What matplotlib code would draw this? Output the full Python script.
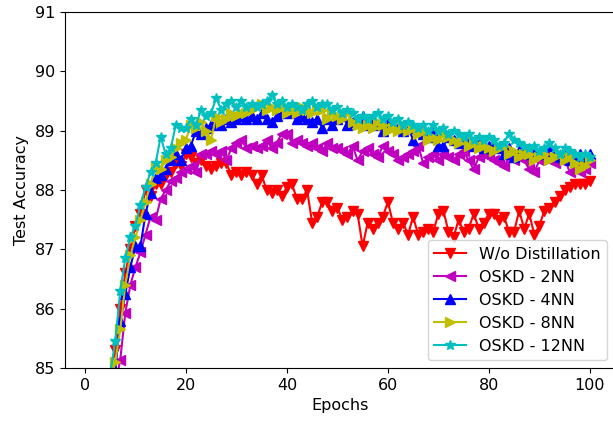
import matplotlib
matplotlib.use("Agg")
import matplotlib.pyplot as plt

epochs = list(range(1, 101))

wo_distillation = [
    82.5, 83.5, 84.0, 84.5, 84.9, 85.3, 86.0, 86.6, 87.0, 87.4,
    87.6, 88.0, 87.9, 88.1, 88.1, 88.25, 88.3, 88.45, 88.4, 88.6,
    88.55, 88.45, 88.5, 88.4, 88.35, 88.4, 88.45, 88.45, 88.25, 88.3,
    88.25, 88.3, 88.25, 88.1, 88.25, 88.0, 87.95, 88.0, 87.9, 88.05,
    88.1, 87.85, 87.85, 88.0, 87.45, 87.55, 87.8, 87.8, 87.65, 87.7,
    87.5, 87.55, 87.65, 87.6, 87.05, 87.45, 87.35, 87.45, 87.55, 87.8,
    87.45, 87.35, 87.45, 87.25, 87.55, 87.25, 87.3, 87.35, 87.3, 87.6,
    87.65, 87.3, 87.2, 87.5, 87.3, 87.35, 87.6, 87.35, 87.45, 87.6,
    87.6, 87.5, 87.55, 87.3, 87.3, 87.65, 87.35, 87.6, 87.25, 87.4,
    87.65, 87.7, 87.8, 87.9, 88.0, 88.05, 88.1, 88.1, 88.1, 88.15,
]

oskd_2nn = [
    81.5, 82.5, 83.2, 83.8, 84.3, 84.7, 85.14, 85.93, 86.4, 86.7,
    86.95, 87.25, 87.55, 87.5, 87.85, 88.0, 88.15, 88.2, 88.3, 88.35,
    88.4, 88.3, 88.6, 88.6, 88.65, 88.6, 88.65, 88.5, 88.7, 88.8,
    88.85, 88.7, 88.75, 88.7, 88.75, 88.85, 88.7, 88.8, 88.95, 88.95,
    88.8, 88.85, 88.8, 88.75, 88.8, 88.7, 88.65, 88.8, 88.7, 88.7,
    88.65, 88.6, 88.75, 88.5, 88.65, 88.7, 88.6, 88.55, 88.75, 88.65,
    88.6, 88.5, 88.55, 88.6, 88.65, 88.75, 88.45, 88.55, 88.6, 88.5,
    88.6, 88.55, 88.5, 88.6, 88.65, 88.5, 88.35, 88.55, 88.6, 88.55,
    88.5, 88.45, 88.4, 88.55, 88.5, 88.6, 88.5, 88.35, 88.3, 88.5,
    88.6, 88.5, 88.45, 88.5, 88.55, 88.3, 88.35, 88.3, 88.35, 88.45,
]

oskd_4nn = [
    82.0, 83.0, 83.7, 84.2, 84.6, 84.95, 85.8, 86.25, 86.7, 87.05,
    87.05, 87.6, 87.95, 88.2, 88.25, 88.35, 88.5, 88.6, 88.5, 88.7,
    88.75, 89.0, 88.95, 89.05, 89.1, 89.15, 89.1, 89.2, 89.15, 89.2,
    89.25, 89.2, 89.25, 89.2, 89.3, 89.2, 89.15, 89.25, 89.3, 89.35,
    89.3, 89.2, 89.25, 89.2, 89.15, 89.2, 89.05, 89.2, 89.1, 89.2,
    89.25, 89.1, 89.15, 89.2, 89.25, 89.1, 89.15, 89.1, 89.0, 89.15,
    89.1, 89.05, 89.0, 89.05, 88.85, 89.0, 88.95, 88.9, 89.0, 88.75,
    88.75, 88.9, 88.85, 88.8, 88.9, 88.8, 88.75, 88.85, 88.7, 88.75,
    88.8, 88.7, 88.6, 88.7, 88.55, 88.65, 88.7, 88.6, 88.65, 88.6,
    88.65, 88.75, 88.6, 88.55, 88.6, 88.5, 88.55, 88.6, 88.55, 88.6,
]

oskd_8nn = [
    82.2, 83.1, 83.8, 84.3, 84.7, 85.1, 85.65, 86.4, 86.9, 87.2,
    87.5, 87.8, 88.1, 88.4, 88.35, 88.5, 88.55, 88.7, 88.8, 88.85,
    89.1, 89.05, 89.15, 89.0, 88.85, 89.25, 89.15, 89.2, 89.3, 89.25,
    89.3, 89.3, 89.35, 89.4, 89.45, 89.35, 89.4, 89.35, 89.4, 89.3,
    89.35, 89.3, 89.4, 89.35, 89.3, 89.4, 89.35, 89.2, 89.3, 89.25,
    89.2, 89.3, 89.15, 89.1, 89.05, 89.1, 89.05, 89.15, 89.1, 89.0,
    89.05, 89.0, 89.1, 89.0, 89.05, 88.95, 89.0, 88.85, 88.9, 88.85,
    88.95, 88.9, 88.85, 88.8, 88.9, 88.75, 88.8, 88.7, 88.75, 88.7,
    88.65, 88.7, 88.75, 88.6, 88.65, 88.55, 88.6, 88.6, 88.5, 88.55,
    88.6, 88.5, 88.55, 88.6, 88.5, 88.55, 88.45, 88.35, 88.4, 88.5,
]

oskd_12nn = [
    82.4, 83.3, 84.0, 84.5, 84.9, 85.45, 86.3, 86.85, 87.2, 87.4,
    87.75, 88.05, 88.3, 88.45, 88.9, 88.6, 88.7, 89.1, 89.05, 89.05,
    89.2, 89.1, 89.35, 89.25, 89.3, 89.55, 89.35, 89.45, 89.5, 89.4,
    89.5, 89.4, 89.45, 89.4, 89.45, 89.5, 89.6, 89.45, 89.5, 89.4,
    89.45, 89.4, 89.35, 89.45, 89.5, 89.4, 89.45, 89.45, 89.35, 89.4,
    89.3, 89.35, 89.3, 89.2, 89.25, 89.2, 89.25, 89.3, 89.2, 89.25,
    89.15, 89.2, 89.1, 89.15, 89.1, 89.05, 89.1, 89.0, 89.1, 89.0,
    89.05, 88.95, 89.0, 88.95, 88.9, 88.95, 88.85, 88.9, 88.85, 88.9,
    88.85, 88.75, 88.8, 88.95, 88.85, 88.8, 88.75, 88.7, 88.75, 88.65,
    88.7, 88.8, 88.7, 88.6, 88.7, 88.65, 88.6, 88.55, 88.6, 88.55,
]

series = [
    (wo_distillation, "r-v", "W/o Distillation"),
    (oskd_2nn, "m-<", "OSKD - 2NN"),
    (oskd_4nn, "b-^", "OSKD - 4NN"),
    (oskd_8nn, "y->", "OSKD - 8NN"),
    (oskd_12nn, "c-*", "OSKD - 12NN"),
]

plt.rcParams["font.size"] = 11.5

fig = plt.figure(figsize=(6.13, 4.23), dpi=100)
ax = fig.add_axes([0.106, 0.13, 0.897, 0.8416])

for values, fmt, label in series:
    ax.plot(epochs, values, fmt, label=label, markersize=7)

ax.set_ylim(85, 91)
ax.set_xlabel("Epochs")
ax.set_ylabel("Test Accuracy")
ax.legend(loc="lower right")

fig.savefig("out.png", dpi=100)
